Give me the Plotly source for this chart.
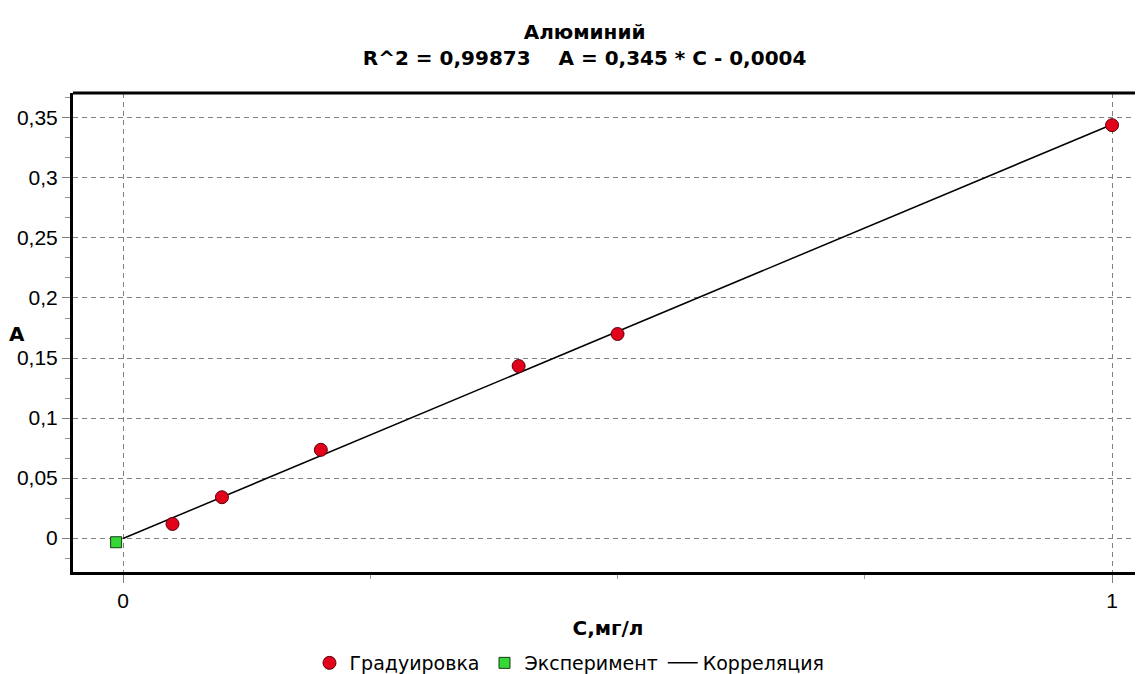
import plotly.graph_objects as go

# Calibration points (Градуировка)
calib_c = [0.05, 0.10, 0.20, 0.40, 0.50, 1.00]
calib_a = [0.0117, 0.034, 0.0735, 0.1433, 0.170, 0.344]

# Experiment point (Эксперимент)
exp_c = [-0.007]
exp_a = [-0.0035]

# Correlation line (Корреляция): A = 0.345*C - 0.0004
corr_c = [0.0, 1.0]
corr_a = [-0.0004, 0.3446]

title_line1 = "Алюминий"
title_line2 = "R^2 = 0,99873    A = 0,345 * C - 0,0004"
x_title = "С,мг/л"
y_title = "А"

x_tickvals = [0, 1]
x_ticktext = ["0", "1"]
x_minor_vals = [0.25, 0.5, 0.75]

TICKFONT = "Liberation Sans, Arial, sans-serif"
BOLDFONT = "DejaVu Sans, Verdana, sans-serif"
LEGFONT = "DejaVu Sans, Verdana, sans-serif"

fig = go.Figure()
fig.add_trace(go.Scatter(
    x=corr_c, y=corr_a, mode="lines", name="Корреляция",
    line=dict(color="black", width=1.5), legendrank=3))
fig.add_trace(go.Scatter(
    x=calib_c, y=calib_a, mode="markers", name="Градуировка",
    marker=dict(symbol="circle", size=13, color="#e3001b",
                line=dict(color="#5a0008", width=1)), legendrank=1))
fig.add_trace(go.Scatter(
    x=exp_c, y=exp_a, mode="markers", name="Эксперимент",
    marker=dict(symbol="square", size=11, color="#35d935",
                line=dict(color="#1a3a1a", width=1)), legendrank=2))

# The page body has an 8px default margin, so the figure is sized to fit
fig.update_layout(
    width=1135, height=666,
    margin=dict(l=65, r=0, t=85, b=102, autoexpand=False),
    paper_bgcolor="white", plot_bgcolor="white",
    separators=", ",
    font=dict(family=TICKFONT, color="black"),
    title=dict(text=title_line1 + "<br>" + title_line2,
               x=0.508, xanchor="center", xref="container",
               y=0.953, yanchor="top", yref="container",
               font=dict(size=20, weight="bold", family=BOLDFONT)),
    showlegend=True,
    legend=dict(orientation="h", x=0.464, xanchor="center",
                y=-0.19, yanchor="middle", traceorder="normal",
                font=dict(size=19, family=LEGFONT), itemwidth=30,
                bgcolor="rgba(0,0,0,0)"),
    xaxis=dict(range=[-0.0506, 1.0313], tickvals=x_tickvals, ticktext=x_ticktext,
               showgrid=True, gridcolor="#808080", griddash="5px,4px", gridwidth=1,
               zeroline=False, showline=True, linecolor="black", linewidth=3,
               ticks="outside", ticklen=8, tickcolor="#808080", tickwidth=1,
               tickfont=dict(size=21, family=TICKFONT),
               minor=dict(tickvals=x_minor_vals, ticks="outside", ticklen=4,
                          tickcolor="#a0a0a0", showgrid=False),
               title=dict(text=x_title, font=dict(size=20, weight="bold", family=BOLDFONT),
                          standoff=10)),
    yaxis=dict(range=[-0.0283, 0.3708], dtick=0.05, tick0=0,
               showgrid=True, gridcolor="#808080", griddash="5px,4px", gridwidth=1,
               zeroline=False, showline=True, linecolor="black", linewidth=3,
               ticks="outside", ticklen=8, tickcolor="#808080", tickwidth=1,
               tickfont=dict(size=21, family=TICKFONT),
               minor=dict(dtick=0.05 / 3, tick0=0, ticks="outside", ticklen=5,
                          tickcolor="#909090", showgrid=False)),
    shapes=[dict(type="line", xref="paper", yref="paper", x0=0, x1=1, y0=1, y1=1,
                 line=dict(color="black", width=3))],
    annotations=[dict(text=y_title, xref="paper", yref="paper", x=-0.052, y=0.497,
                      showarrow=False, xanchor="center", yanchor="middle",
                      font=dict(size=20, weight="bold", family=BOLDFONT))],
)

fig.write_html("out.html")
